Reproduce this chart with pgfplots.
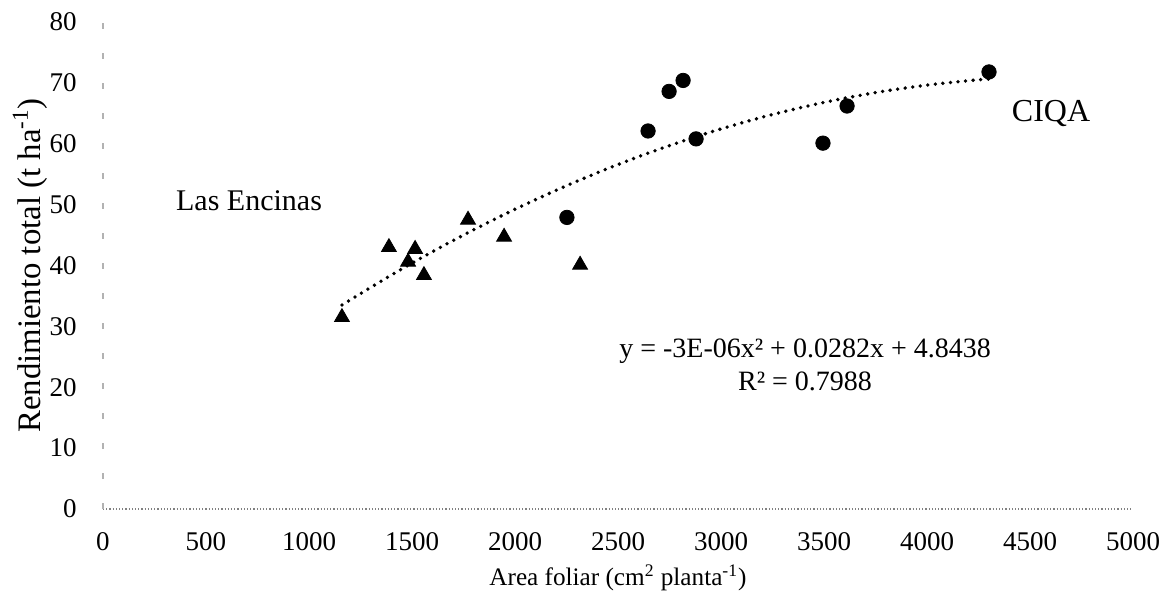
\documentclass[border=0pt]{standalone}
\usepackage{fontspec}
\setmainfont{Liberation Serif}
\usepackage{pgfplots}
\pgfplotsset{compat=1.18}
\begin{document}
\fontsize{13.5}{16}\selectfont
\begin{tikzpicture}
% page frame of the reference: 584pt x 300pt, axis origin at (0,0)
\useasboundingbox (-51.5pt,-45.5pt) rectangle (532.5pt,254.5pt);
\begin{axis}[
    at={(0,0)}, anchor=south west,
    scale only axis,
    width=515pt, height=243.5pt,
    xmin=0, xmax=5000, ymin=0, ymax=80,
    xtick={0,500,...,5000}, ytick={0,10,...,80},
    axis x line*=bottom, axis y line*=left,
    x axis line style={gray, line width=0.6pt, dash pattern=on 0.6pt off 1pt, -},
    y axis line style={gray!60, line width=0.6pt, dash pattern=on 3pt off 12pt, -},
    major tick length=0pt,
    /pgf/number format/assume math mode=true,
    /pgf/number format/set thousands separator={},
    ticklabel style={font=\fontsize{13.5}{16}\selectfont},
    xticklabel style={anchor=center, yshift=-16.5pt},
    yticklabel style={xshift=-8.5pt},
    xlabel={Area foliar (cm\textsuperscript{2} planta\textsuperscript{-1})},
    ylabel={Rendimiento total (t ha\textsuperscript{-1})},
    xlabel style={at={(axis description cs:0.5,-0.1417)}, anchor=center,
                  font=\fontsize{12.6}{14}\selectfont},
    ylabel style={at={(axis description cs:-0.0709,0.5)}, anchor=center,
                  font=\fontsize{16.4}{18}\selectfont},
    clip=false,
]
% Las Encinas
\addplot[only marks, mark=triangle*, mark size=4.3pt, black] coordinates {
    (1160,31.5) (1388,43.0) (1515,42.7) (1481,40.6)
    (1558,38.4) (1772,47.5) (1947,44.7) (2316,40.1)
};
% CIQA
\addplot[only marks, mark=*, mark size=3.6pt, black] coordinates {
    (2252,47.9) (2646,62.1) (2748,68.6) (2816,70.4)
    (2879,60.8) (3495,60.1) (3612,66.2) (4301,71.8)
};
% polynomial trend line
\addplot[black, smooth, line width=1.9pt, line cap=round,
         dash pattern=on 0pt off 3.8pt] coordinates {
    (1160,33.52) (1400,38.44) (1600,42.28) (1800,45.88) (2000,49.24)
    (2200,52.36) (2400,55.24) (2600,57.88) (2800,60.28) (3000,62.44)
    (3200,64.36) (3400,66.04) (3600,67.48) (3800,68.68) (4000,69.64)
    (4200,70.36) (4300,70.63)
};
\node[font=\fontsize{15}{17}\selectfont] at (axis cs:709,50.7) {Las Encinas};
\node[font=\fontsize{16}{18}\selectfont] at (axis cs:4602,65.0) {CIQA};
\node[align=center, inner sep=0pt, font=\fontsize{14}{16.5}\selectfont]
    at (axis cs:3408,23.7)
    {y = -3E-06x² + 0.0282x + 4.8438\\ R² = 0.7988};
\end{axis}
\end{tikzpicture}
\end{document}
